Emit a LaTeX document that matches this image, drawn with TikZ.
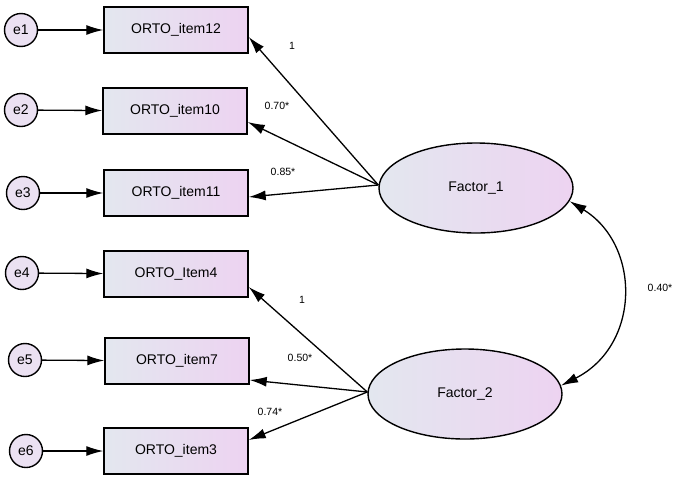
\documentclass[tikz,border=0pt]{standalone}
\usepackage{fontspec}
\setmainfont{Liberation Sans}
\usepackage{tikz}
\usetikzlibrary{arrows.meta,positioning,calc,shapes.geometric}
\definecolor{boxleft}{HTML}{E3E7EF}
\definecolor{boxright}{HTML}{EDD3F1}
\definecolor{errfill}{HTML}{EBE1F2}

\begin{document}
\begin{tikzpicture}[x=1pt,y=-1pt,
  item/.style={rectangle,draw,line width=1.4pt,left color=boxleft,right color=boxright,minimum width=144pt,minimum height=46pt,inner sep=0pt,font={\fontsize{14}{16}\selectfont}},
  err/.style={circle,draw,line width=1.4pt,fill=errfill,minimum size=33pt,inner sep=0pt,font={\fontsize{14}{16}\selectfont}},
  factor/.style={ellipse,draw,line width=1.4pt,left color=boxleft,right color=boxright,minimum width=194pt,minimum height=90pt,inner sep=0pt,font={\fontsize{14}{16}\selectfont}},
  coef/.style={font={\fontsize{10.5}{12}\selectfont}},
  path/.style={line width=1.3pt,-{Latex[length=17pt,width=10pt]}}]
\useasboundingbox (0,0) rectangle (674,480);
% observed items
\node[item] (item12) at (176,30) {ORTO\_item12};
\node[item] (item10) at (175,111) {ORTO\_item10};
\node[item] (item11) at (176,193) {ORTO\_item11};
\node[item] (item4) at (176,274) {ORTO\_Item4};
\node[item] (item7) at (177,361) {ORTO\_item7};
\node[item] (item3) at (176,451) {ORTO\_item3};
% errors
\node[err] (e1) at (21,30) {e1};
\node[err] (e2) at (21,110) {e2};
\node[err] (e3) at (23,193) {e3};
\node[err] (e4) at (22,273) {e4};
\node[err] (e5) at (25,360) {e5};
\node[err] (e6) at (26,451) {e6};
% factors
\node[factor] (f1) at (476,188) {Factor\_1};
\node[factor] (f2) at (465,394) {Factor\_2};
\draw[path] (e1) -- (item12);
\draw[path] (e2) -- (item10);
\draw[path] (e3) -- (item11);
\draw[path] (e4) -- (item4);
\draw[path] (e5) -- (item7);
\draw[path] (e6) -- (item3);
\draw[path] ($(f1.west)+(0,-3)$) -- ($(item12.east)+(0,7)$);
\draw[path] ($(f1.west)+(0,-3)$) -- ($(item10.east)+(0,11)$);
\draw[path] ($(f1.west)+(0,-3)$) -- ($(item11.east)+(0,4)$);
\draw[path] ($(f2.west)+(0,-2)$) -- ($(item4.east)+(0,13)$);
\draw[path] ($(f2.west)+(0,-2)$) -- ($(item7.east)+(0,19)$);
\draw[path] ($(f2.west)+(0,-2)$) -- ($(item3.east)+(0,-11)$);
% covariance
\draw[line width=1.3pt,{Latex[length=17pt,width=10pt]}-{Latex[length=17pt,width=10pt]}] (f1.-8) .. controls (641,245) and (641,345) .. (f2.5);
% estimates
\node[coef] (c1) at (292,46) {1};
\node[coef] (c2) at (277,106) {0.70*};
\node[coef] (c3) at (283,172) {0.85*};
\node[coef] (c4) at (302,300) {1};
\node[coef] (c5) at (300,358) {0.50*};
\node[coef] (c6) at (270,412) {0.74*};
\node[coef] (c7) at (660,288) {0.40*};
\end{tikzpicture}
\end{document}
